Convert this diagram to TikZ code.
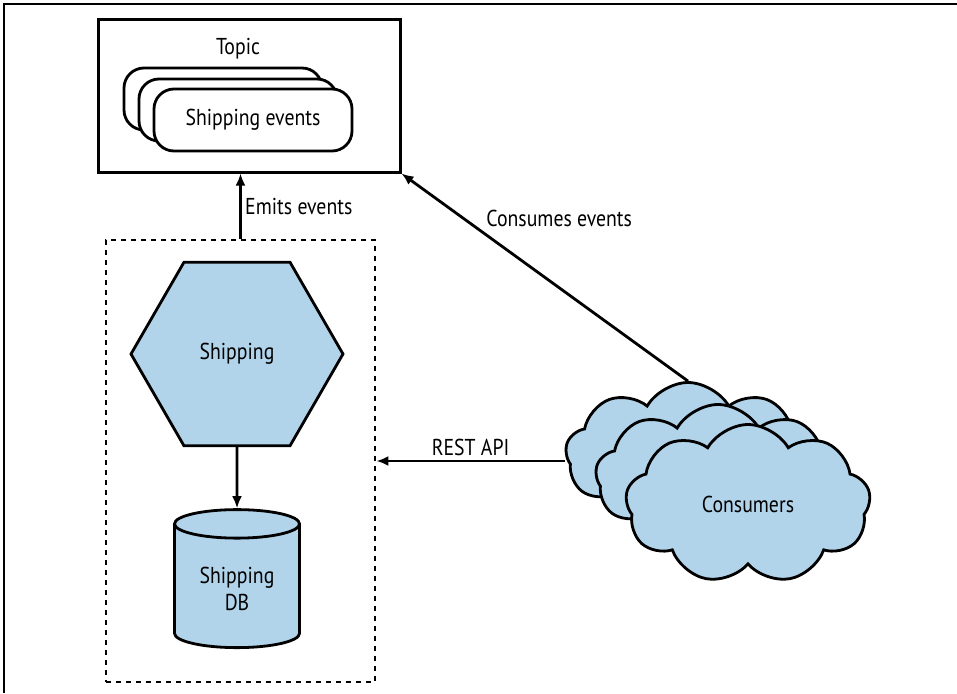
\documentclass[tikz,border=0pt]{standalone}
\usepackage{fontspec}
\setmainfont{PT Sans}[FakeStretch=0.86]
\usetikzlibrary{positioning,arrows.meta}
\usetikzlibrary{shapes.geometric,shapes.symbols}
\definecolor{svcblue}{RGB}{178,212,234}

\begin{document}
\begin{tikzpicture}[x=1pt,y=-1pt,>={Latex[length=12pt,width=10pt]},line width=2.8pt,font=\fontsize{23}{27}\selectfont, box/.style={draw,rectangle,line width=3pt,minimum width=302pt,minimum height=152pt}, evt/.style={draw,fill=white,rounded corners=20pt,minimum width=198pt,minimum height=62pt}, hex/.style={draw,fill=svcblue,regular polygon,regular polygon sides=6,minimum size=212pt,inner sep=0pt}, dbase/.style={draw,fill=svcblue,cylinder,shape border rotate=90,aspect=0.35,minimum width=125pt,minimum height=138pt,align=center}, cons/.style={draw,fill=svcblue,cloud,cloud puffs=9,cloud puff arc=120,minimum width=245pt,minimum height=145pt}, ]

	\useasboundingbox (0,0) rectangle (957,693);
	\draw[line width=1.5pt] (4,693) -- (4,4) -- (957,4);

	\node[box] (topic) at (249,96) {};
	\node (topiclbl) at (238,49) {Topic};
	\node[evt] (evtc) at (223,99) {};
	\node[evt] (evtb) at (238,110) {};
	\node[evt] (evta) at (253,120) {Shipping events};

	\node[draw,dash pattern=on 5pt off 5pt,line width=2.8pt,minimum width=269pt,minimum height=442pt] (svc) at (240.5,461) {};
	\node[hex] (ship) at (237,354) {Shipping};
	\node[dbase, below=61pt of ship] (shipdb) {Shipping\\DB};

	\node[cons] (consc) at (688,455) {};
	\node[cons] (consb) at (718,477) {};
	\node[cons] (consa) at (748,504) {Consumers};

	\draw[->] (ship) -- (shipdb);
	\draw[->] (svc.north) -- node[right] {Emits events} (svc.north |- topic.south);
	\draw[->] (consc.north) -- node[pos=0.72,above right] {Consumes events} (topic.south east);
	\draw[->] (svc.east -| consc.west) -- node[above] {REST API} (svc.east);

\end{tikzpicture}
\end{document}
